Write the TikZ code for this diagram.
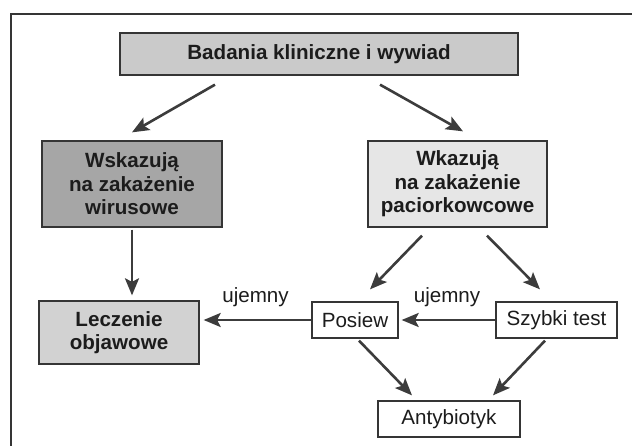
\documentclass[tikz,border=0pt]{standalone}
\usepackage{fontspec}
\setmainfont{Liberation Sans}
\usetikzlibrary{arrows.meta}
\definecolor{ink}{HTML}{1C1C1C}
\definecolor{boxline}{HTML}{353535}
\definecolor{arrowgray}{HTML}{3C3C3C}
\definecolor{topfill}{HTML}{CACACA}
\definecolor{darkfill}{HTML}{A6A6A6}
\definecolor{lightfill}{HTML}{E6E6E6}
\definecolor{midfill}{HTML}{D2D2D2}
\tikzset{
	>={Stealth[length=17pt,width=14pt,inset=3.5pt]}, % wide dark heads
	box/.style={draw=boxline, line width=1.3pt, text=ink, inner sep=0pt, align=center,
		font=\fontsize{20.6}{23.5}\selectfont},
	boldbox/.style={box, font=\fontsize{20.6}{23.5}\selectfont\bfseries},
	link/.style={->, draw=arrowgray, line width=2.6pt},
	lbl/.style={text=ink, inner sep=0pt, font=\fontsize{20.6}{23.5}\selectfont},
	frame/.style={draw=boxline, line width=1.6pt},
}
\begin{document}
\begin{tikzpicture}[x=1pt, y=-1pt]
	\useasboundingbox (0,0) rectangle (632,446);
	\draw[frame] (632,14) -- (11,14) -- (11,446);

	\node[boldbox, fill=topfill, minimum width=398pt, minimum height=42pt] (badania) at (319,54) {Badania kliniczne i wywiad};
	\node[boldbox, fill=darkfill, minimum width=180pt, minimum height=86pt] (wirus) at (132,184) {Wskazują\\na zakażenie\\wirusowe};
	\node[boldbox, fill=lightfill, minimum width=179pt, minimum height=86pt] (pacior) at (457.5,184) {Wkazują\\na zakażenie\\paciorkowcowe};
	\node[boldbox, fill=midfill, minimum width=160pt, minimum height=63pt] (leczenie) at (119,332.5) {Leczenie\\objawowe};
	\node[box, fill=white, minimum width=86pt, minimum height=36pt] (posiew) at (355,320) {Posiew};
	\node[box, fill=white, minimum width=121pt, minimum height=36pt] (szybki) at (556.5,320) {Szybki test};
	\node[box, fill=white, minimum width=142pt, minimum height=36pt] (antyb) at (449,419) {Antybiotyk};

	\draw[link] ([xshift=-104pt,yshift=-9pt]badania.south) -- ([yshift=8pt]wirus.north);
	\draw[link] ([xshift=61pt,yshift=-9pt]badania.south) -- ([xshift=5.5pt,yshift=9pt]pacior.north);
	\draw[link] ([yshift=-2pt]wirus.south) -- ([xshift=13pt,yshift=5pt]leczenie.north);
	\draw[link] ([xshift=-35.5pt,yshift=-8pt]pacior.south) -- ([xshift=15pt,yshift=12pt]posiew.north);
	\draw[link] ([xshift=29.5pt,yshift=-8pt]pacior.south) -- ([xshift=-16.5pt,yshift=12pt]szybki.north);
	\draw[link, shorten >=4pt] (posiew.west) -- (posiew.west -| leczenie.east)
		node[lbl, midway, above=12pt] {ujemny};
	\draw[link, shorten >=3pt] (szybki.west) -- (posiew.east)
		node[lbl, midway, above=12pt] {ujemny};
	\draw[link] ([xshift=4pt,yshift=-2pt]posiew.south) -- ([xshift=-37pt,yshift=5pt]antyb.north);
	\draw[link] ([xshift=-11.5pt,yshift=-2pt]szybki.south) -- ([xshift=44pt,yshift=5pt]antyb.north);
\end{tikzpicture}
\end{document}
